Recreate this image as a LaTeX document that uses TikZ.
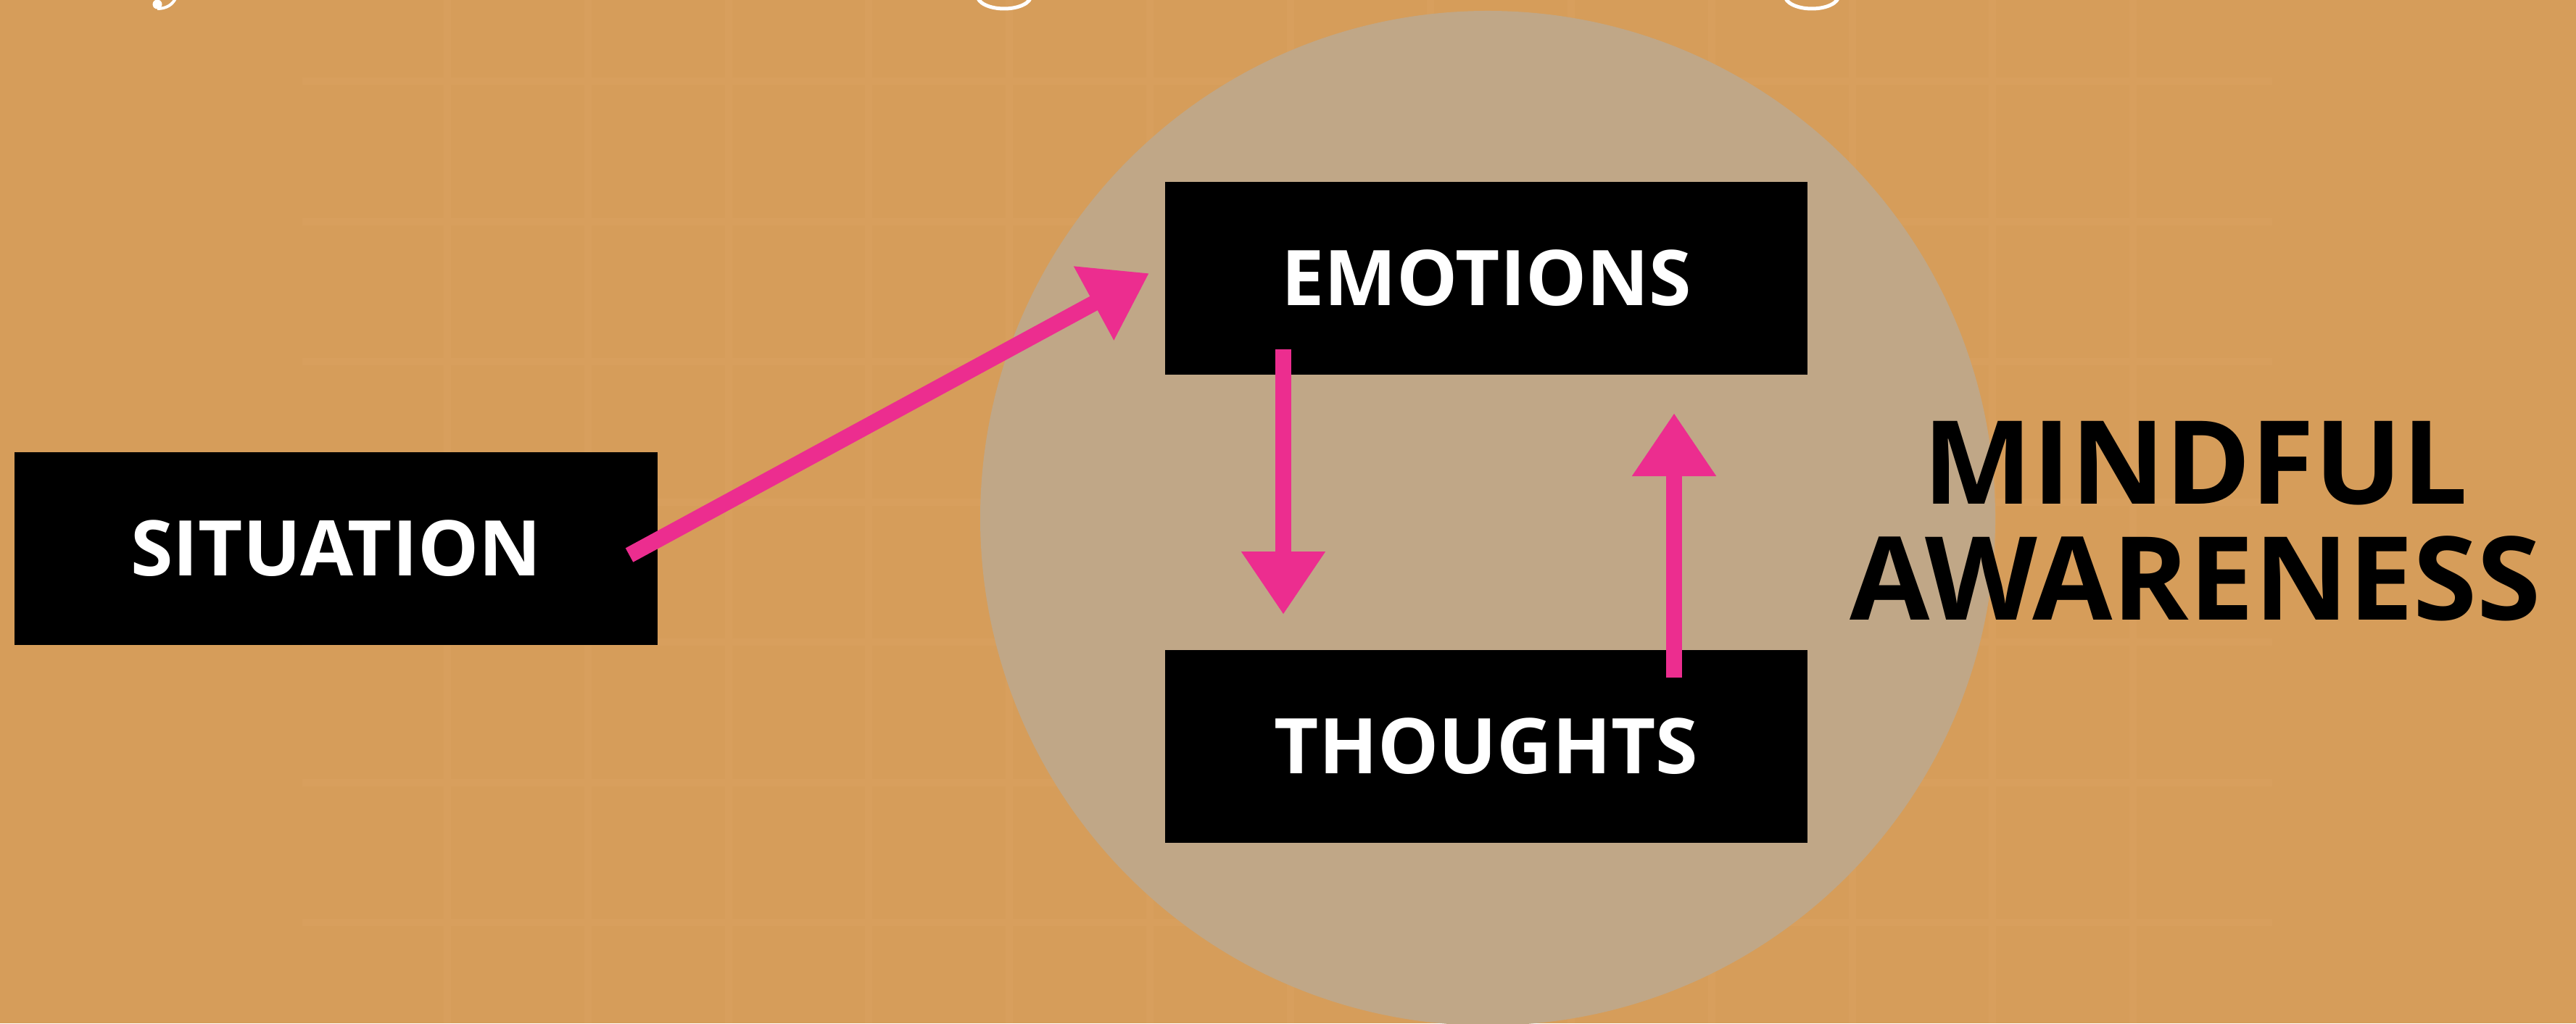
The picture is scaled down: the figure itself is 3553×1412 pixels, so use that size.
\documentclass[tikz,border=0pt]{standalone}
\usepackage{fontspec}
\setmainfont{Open Sans}
\usetikzlibrary{arrows.meta}
\definecolor{bgc}{HTML}{D69D5A}
\definecolor{gridc}{HTML}{D89F5D}
\definecolor{circc}{HTML}{C0A787}
\definecolor{pinkc}{HTML}{EC2D8F}
\begin{document}
\begin{tikzpicture}[x=0.2pt,y=-0.2pt,
  box/.style={fill=black, text=white, font=\fontsize{21.2pt}{21.2pt}\selectfont\bfseries,
    minimum width=177.2pt, minimum height=53.2pt, inner sep=0pt},
  link/.style={draw=pinkc, line width=4.4pt, -{Triangle[width=22pt,length=17.4pt]}},
  gridline/.style={draw=gridc, line width=2pt},
  frag/.style={white}]
\useasboundingbox (0,0) rectangle (3553,1412);
\clip (0,0) rectangle (3553,1412);
\fill[bgc] (0,0) rectangle (3553,1412);
\foreach \k in {0,...,12} \draw[gridline] ({617+193.75*\k},0) -- ({617+193.75*\k},1412);
\foreach \k in {0,...,6} \draw[gridline] (417,{112+193.5*\k}) -- (3134,{112+193.5*\k});
% clipped title fragments at the top edge
\fill[frag] (217,6) circle[radius=1.3pt];
\draw[frag, line width=0.8pt] (217,12) .. controls (230,12) and (238,6) .. (242,-2);
\draw[frag, line width=1pt] (1385,-6) ellipse[x radius=7.4pt, y radius=3.6pt];
\draw[frag, line width=1pt] (2499,-6) ellipse[x radius=7.4pt, y radius=3.6pt];
% circle
\fill[circc] (2052,715) circle[radius=140pt];
% boxes
\node[box] (emo) at (2050,384) {EMOTIONS};
\node[box] (tho) at (2050,1030) {THOUGHTS};
\node[box] (sit) at (463.5,756.5) {SITUATION};
\node[anchor=base, align=center, font=\fontsize{32pt}{32pt}\selectfont\bfseries] (mind) at (3028,855) {MINDFUL\\AWARENESS};
% arrows
\coordinate (d1) at (1770,482); \coordinate (d2) at (1770,848);
\coordinate (u1) at (2309,935); \coordinate (u2) at (2309,570);
\coordinate (s1) at (868,766); \coordinate (s2) at (1585,377);
\draw[link] (d1) -- (d2);
\draw[link] (u1) -- (u2);
\draw[link] (s1) -- (s2);
\end{tikzpicture}
\end{document}
